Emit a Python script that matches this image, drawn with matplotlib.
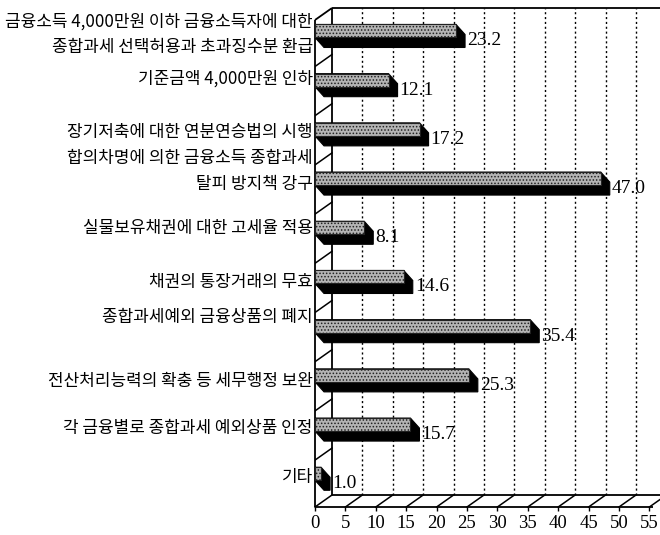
import numpy as np
import matplotlib
matplotlib.use("Agg")
import matplotlib.pyplot as plt
from matplotlib.patches import Polygon

plt.rcParams['hatch.linewidth'] = 0.7

categories = [
    "금융소득 4,000만원 이하 금융소득자에 대한\n종합과세 선택허용과 초과징수분 환급",
    "기준금액 4,000만원 인하",
    "장기저축에 대한 연분연승법의 시행",
    "합의차명에 의한 금융소득 종합과세\n탈피 방지책 강구",
    "실물보유채권에 대한 고세율 적용",
    "채권의 통장거래의 무효",
    "종합과세예외 금융상품의 폐지",
    "전산처리능력의 확충 등 세무행정 보완",
    "각 금융별로 종합과세 예외상품 인정",
    "기타",
]
values = [23.2, 12.1, 17.2, 47.0, 8.1, 14.6, 35.4, 25.3, 15.7, 1.0]
xticks = [0, 5, 10, 15, 20, 25, 30, 35, 40, 45, 50, 55]

# vertical nudge of the category texts (in category units)
label_nudge = [-0.03, -0.14, -0.04, -0.25, -0.1, 0.0, -0.28, 0.02, -0.04, -0.04]

W, H = 660, 535
px_x = 6.08      # pixels per percent
px_y = 49.2      # pixels per category
fig = plt.figure(figsize=(W / 100, H / 100), dpi=100)
ax = fig.add_axes([315 / W, 1 - 507 / H, (660 - 315) / W, (507 - 8) / H])
xmax = (660 - 315) / px_x
ytop = (8 - 36) / px_y
ybot = (507 - 36) / px_y
ax.set_xlim(0, xmax)
ax.set_ylim(ybot, ytop)

# depth of the box and of the bars
dx, dy = 17 / px_x, 12 / px_y
dxb, dyb = 9 / px_x, 10 / px_y

lk = dict(color="black", lw=1.3, clip_on=False, solid_capstyle="butt")

# back wall
ax.plot([dx, dx], [ybot - dy, ytop], zorder=2, **lk)
ax.plot([dx, xmax], [ytop, ytop], zorder=2, **lk)
for v in xticks[1:]:
    ax.plot([v + dx, v + dx], [ybot - dy, ytop], color="black", lw=1.0,
            ls=(0, (1.5, 2.0)), zorder=1, clip_on=True)

# left wall
ax.plot([0, 0], [ybot, ytop + dy], zorder=3, **lk)
ax.plot([0, dx], [ytop + dy, ytop], zorder=3, **lk)
for i in range(len(categories) - 1):
    b = i + 0.5
    ax.plot([0, dx], [b + 0.12, b + 0.12 - dy], color="black", lw=1.1, zorder=2)

# floor
ax.plot([0, xticks[-1] + 0.6], [ybot, ybot], zorder=3, **lk)
ax.plot([dx, xmax], [ybot - dy, ybot - dy], zorder=3, **lk)
for v in xticks:
    ax.plot([v, v + dx], [ybot, ybot - dy], color="black", lw=1.1, zorder=3, clip_on=False)

# bars: dark body with shifted depth, stippled face on top
for i, v in enumerate(values):
    gt = i - 0.234
    gb = i + 0.03
    body = [(0, gt), (v, gt), (v + dxb, gt + dyb), (v + dxb, gb + dyb),
            (dxb, gb + dyb), (0, gb)]
    ax.add_patch(Polygon(body, closed=True, facecolor="black",
                         edgecolor="black", lw=0.8, zorder=4))
ax.barh([i - 0.102 for i in range(len(values))], values, height=0.264, left=0,
        color="#b4b4b4", edgecolor="#222222", hatch=".....", lw=0.8, zorder=5)

for i, v in enumerate(values):
    ax.text(v + dxb + 0.35, i + 0.1, f"{v:.1f}", ha="left", va="center",
            fontsize=14, family="Liberation Serif", zorder=6)

for i, lab in enumerate(categories):
    ax.text(-0.35, i + label_nudge[i], lab, ha="right", va="center",
            fontsize=12.2, family=["Noto Sans CJK KR", "DejaVu Sans"],
            linespacing=1.55, clip_on=False)

for s in ax.spines.values():
    s.set_visible(False)
ax.set_yticks([])
ax.set_xticks(xticks)
ax.set_xticklabels([str(t) for t in xticks], family="Liberation Serif", fontsize=13.5)
ax.tick_params(axis="x", length=3, width=1.0, pad=3, color="black")

fig.savefig("out.png", dpi=100)
